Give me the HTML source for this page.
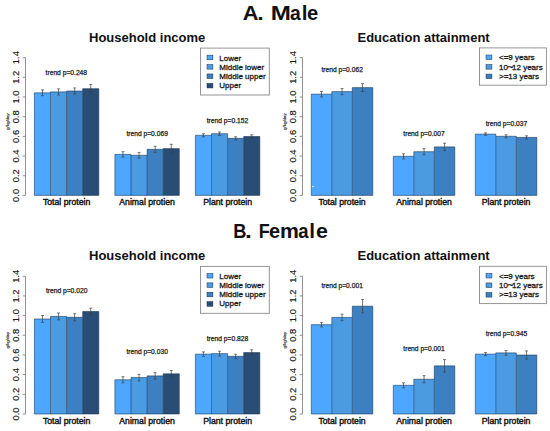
<!DOCTYPE html>
<html><head><meta charset="utf-8"><style>
html,body{margin:0;padding:0;background:#fff;width:550px;height:431px;overflow:hidden}
svg{display:block}
text{font-family:"Liberation Sans",sans-serif;fill:#1a1a1a}
.big{font-size:21px;font-weight:bold;fill:#111}
.pt{font-size:13px;font-weight:bold;fill:#111}
.tk{font-size:9.4px;fill:#1a1a1a;stroke:#1a1a1a;stroke-width:0.18px}
.yl{font-size:4.4px;fill:#333;stroke:#333;stroke-width:0.15px}
.xl{font-size:8.7px;fill:#111;stroke:#111;stroke-width:0.4px}
.tr{font-size:6.7px;fill:#1a1a1a;stroke:#1a1a1a;stroke-width:0.25px}
.lg{font-size:8px;fill:#1a1a1a;stroke:#1a1a1a;stroke-width:0.3px}
</style></head><body>
<svg width="550" height="431" viewBox="0 0 550 431">
<rect width="550" height="431" fill="#fff"/>
<text transform="translate(242.68,20.3) scale(1.036,1)" class="big">A</text>
<text transform="translate(257.15,20.3) scale(1.100,1)" class="big">.</text>
<text transform="translate(270.67,20.3) scale(1.152,1)" class="big">M</text>
<text transform="translate(290.11,20.3) scale(0.918,1)" class="big">a</text>
<text transform="translate(301.63,20.3) scale(0.982,1)" class="big">l</text>
<text transform="translate(307.08,20.3) scale(0.956,1)" class="big">e</text>
<text transform="translate(233.19,238.4) scale(0.871,1)" class="big">B</text>
<text transform="translate(244.95,238.4) scale(1.167,1)" class="big">.</text>
<text transform="translate(258.81,238.4) scale(0.857,1)" class="big">F</text>
<text transform="translate(269.09,238.4) scale(0.946,1)" class="big">e</text>
<text transform="translate(280.09,238.4) scale(1.010,1)" class="big">m</text>
<text transform="translate(298.14,238.4) scale(0.882,1)" class="big">a</text>
<text transform="translate(309.13,238.4) scale(0.982,1)" class="big">l</text>
<text transform="translate(316.04,238.4) scale(1.015,1)" class="big">e</text>
<line x1="25.5" y1="195.40" x2="25.5" y2="57.65" stroke="#858585" stroke-width="0.9"/>
<line x1="22.7" y1="195.40" x2="25.5" y2="195.40" stroke="#858585" stroke-width="0.9"/>
<text transform="translate(19.40,195.40) rotate(-90)" text-anchor="middle" class="tk">0.0</text>
<line x1="22.7" y1="175.72" x2="25.5" y2="175.72" stroke="#858585" stroke-width="0.9"/>
<text transform="translate(19.40,175.72) rotate(-90)" text-anchor="middle" class="tk">0.2</text>
<line x1="22.7" y1="156.04" x2="25.5" y2="156.04" stroke="#858585" stroke-width="0.9"/>
<text transform="translate(19.40,156.04) rotate(-90)" text-anchor="middle" class="tk">0.4</text>
<line x1="22.7" y1="136.37" x2="25.5" y2="136.37" stroke="#858585" stroke-width="0.9"/>
<text transform="translate(19.40,136.37) rotate(-90)" text-anchor="middle" class="tk">0.6</text>
<line x1="22.7" y1="116.69" x2="25.5" y2="116.69" stroke="#858585" stroke-width="0.9"/>
<text transform="translate(19.40,116.69) rotate(-90)" text-anchor="middle" class="tk">0.8</text>
<line x1="22.7" y1="97.01" x2="25.5" y2="97.01" stroke="#858585" stroke-width="0.9"/>
<text transform="translate(19.40,97.01) rotate(-90)" text-anchor="middle" class="tk">1.0</text>
<line x1="22.7" y1="77.33" x2="25.5" y2="77.33" stroke="#858585" stroke-width="0.9"/>
<text transform="translate(19.40,77.33) rotate(-90)" text-anchor="middle" class="tk">1.2</text>
<line x1="22.7" y1="57.65" x2="25.5" y2="57.65" stroke="#858585" stroke-width="0.9"/>
<text transform="translate(19.40,57.65) rotate(-90)" text-anchor="middle" class="tk">1.4</text>
<text transform="translate(8.90,121.60) rotate(-90)" text-anchor="middle" class="yl">g/kg/day</text>
<rect x="34.40" y="92.80" width="16.10" height="102.60" fill="#4da6ff"/>
<rect x="50.50" y="91.90" width="16.10" height="103.50" fill="#4a9be2"/>
<rect x="66.60" y="91.00" width="16.10" height="104.40" fill="#3d80c2"/>
<rect x="82.70" y="88.70" width="16.10" height="106.70" fill="#294d75"/>
<path d="M34.40 92.80H50.50M50.50 91.90H66.60M66.60 91.00H82.70M82.70 88.70H98.80M34.40 92.80V195.40M50.50 91.90V195.40M66.60 91.00V195.40M82.70 88.70V195.40M98.80 88.70V195.40M34.40 195.40H98.80" fill="none" stroke="#14304f" stroke-opacity="0.55" stroke-width="1.0"/>
<path d="M42.45 89.90V95.70M40.95 89.90H43.95M40.95 95.70H43.95" stroke="#404040" stroke-width="0.7" fill="none"/>
<path d="M58.55 88.85V94.95M57.05 88.85H60.05M57.05 94.95H60.05" stroke="#404040" stroke-width="0.7" fill="none"/>
<path d="M74.65 87.95V94.05M73.15 87.95H76.15M73.15 94.05H76.15" stroke="#404040" stroke-width="0.7" fill="none"/>
<path d="M90.75 84.60V92.80M89.25 84.60H92.25M89.25 92.80H92.25" stroke="#404040" stroke-width="0.7" fill="none"/>
<text x="66.60" y="205.20" text-anchor="middle" class="xl">Total protein</text>
<rect x="114.90" y="154.40" width="16.10" height="41.00" fill="#4da6ff"/>
<rect x="131.00" y="155.30" width="16.10" height="40.10" fill="#4a9be2"/>
<rect x="147.10" y="149.30" width="16.10" height="46.10" fill="#3d80c2"/>
<rect x="163.20" y="148.60" width="16.10" height="46.80" fill="#294d75"/>
<path d="M114.90 154.40H131.00M131.00 155.30H147.10M147.10 149.30H163.20M163.20 148.60H179.30M114.90 154.40V195.40M131.00 154.40V195.40M147.10 149.30V195.40M163.20 148.60V195.40M179.30 148.60V195.40M114.90 195.40H179.30" fill="none" stroke="#14304f" stroke-opacity="0.55" stroke-width="1.0"/>
<path d="M122.95 151.70V157.10M121.45 151.70H124.45M121.45 157.10H124.45" stroke="#404040" stroke-width="0.7" fill="none"/>
<path d="M139.05 152.45V158.15M137.55 152.45H140.55M137.55 158.15H140.55" stroke="#404040" stroke-width="0.7" fill="none"/>
<path d="M155.15 146.30V152.30M153.65 146.30H156.65M153.65 152.30H156.65" stroke="#404040" stroke-width="0.7" fill="none"/>
<path d="M171.25 144.30V152.90M169.75 144.30H172.75M169.75 152.90H172.75" stroke="#404040" stroke-width="0.7" fill="none"/>
<text x="147.10" y="205.20" text-anchor="middle" class="xl">Animal protien</text>
<rect x="195.40" y="135.30" width="16.10" height="60.10" fill="#4da6ff"/>
<rect x="211.50" y="133.70" width="16.10" height="61.70" fill="#4a9be2"/>
<rect x="227.60" y="138.30" width="16.10" height="57.10" fill="#3d80c2"/>
<rect x="243.70" y="136.50" width="16.10" height="58.90" fill="#294d75"/>
<path d="M195.40 135.30H211.50M211.50 133.70H227.60M227.60 138.30H243.70M243.70 136.50H259.80M195.40 135.30V195.40M211.50 133.70V195.40M227.60 133.70V195.40M243.70 136.50V195.40M259.80 136.50V195.40M195.40 195.40H259.80" fill="none" stroke="#14304f" stroke-opacity="0.55" stroke-width="1.0"/>
<path d="M203.45 133.75V136.85M201.95 133.75H204.95M201.95 136.85H204.95" stroke="#404040" stroke-width="0.7" fill="none"/>
<path d="M219.55 132.00V135.40M218.05 132.00H221.05M218.05 135.40H221.05" stroke="#404040" stroke-width="0.7" fill="none"/>
<path d="M235.65 136.75V139.85M234.15 136.75H237.15M234.15 139.85H237.15" stroke="#404040" stroke-width="0.7" fill="none"/>
<path d="M251.75 134.80V138.20M250.25 134.80H253.25M250.25 138.20H253.25" stroke="#404040" stroke-width="0.7" fill="none"/>
<text x="227.60" y="205.20" text-anchor="middle" class="xl">Plant protein</text>
<text x="45.60" y="74.60" class="tr">trend p=0.248</text>
<text x="126.40" y="136.10" class="tr">trend p=0.069</text>
<text x="206.70" y="122.90" class="tr">trend p=0.152</text>
<rect x="200.5" y="48.1" width="68.80000000000001" height="46.9" fill="#fff" stroke="#8a8a8a" stroke-width="0.9"/>
<rect x="207.0" y="55.15" width="5.9" height="4.6" fill="#4da6ff" stroke="#14304f" stroke-width="0.5"/>
<text x="219.3" y="60.80" class="lg">Lower</text>
<rect x="207.0" y="64.55" width="5.9" height="4.6" fill="#4a9be2" stroke="#14304f" stroke-width="0.5"/>
<text x="219.3" y="69.88" class="lg">Middle lower</text>
<rect x="207.0" y="73.95" width="5.9" height="4.6" fill="#3d80c2" stroke="#14304f" stroke-width="0.5"/>
<text x="219.3" y="78.96" class="lg">Middle upper</text>
<rect x="207.0" y="83.35" width="5.9" height="4.6" fill="#294d75" stroke="#14304f" stroke-width="0.5"/>
<text x="219.3" y="88.04" class="lg">Upper</text>
<text x="89.0" y="42.00" class="pt">Household income</text>
<line x1="302.5" y1="195.40" x2="302.5" y2="57.65" stroke="#858585" stroke-width="0.9"/>
<line x1="299.7" y1="195.40" x2="302.5" y2="195.40" stroke="#858585" stroke-width="0.9"/>
<text transform="translate(296.40,195.40) rotate(-90)" text-anchor="middle" class="tk">0.0</text>
<line x1="299.7" y1="175.72" x2="302.5" y2="175.72" stroke="#858585" stroke-width="0.9"/>
<text transform="translate(296.40,175.72) rotate(-90)" text-anchor="middle" class="tk">0.2</text>
<line x1="299.7" y1="156.04" x2="302.5" y2="156.04" stroke="#858585" stroke-width="0.9"/>
<text transform="translate(296.40,156.04) rotate(-90)" text-anchor="middle" class="tk">0.4</text>
<line x1="299.7" y1="136.37" x2="302.5" y2="136.37" stroke="#858585" stroke-width="0.9"/>
<text transform="translate(296.40,136.37) rotate(-90)" text-anchor="middle" class="tk">0.6</text>
<line x1="299.7" y1="116.69" x2="302.5" y2="116.69" stroke="#858585" stroke-width="0.9"/>
<text transform="translate(296.40,116.69) rotate(-90)" text-anchor="middle" class="tk">0.8</text>
<line x1="299.7" y1="97.01" x2="302.5" y2="97.01" stroke="#858585" stroke-width="0.9"/>
<text transform="translate(296.40,97.01) rotate(-90)" text-anchor="middle" class="tk">1.0</text>
<line x1="299.7" y1="77.33" x2="302.5" y2="77.33" stroke="#858585" stroke-width="0.9"/>
<text transform="translate(296.40,77.33) rotate(-90)" text-anchor="middle" class="tk">1.2</text>
<line x1="299.7" y1="57.65" x2="302.5" y2="57.65" stroke="#858585" stroke-width="0.9"/>
<text transform="translate(296.40,57.65) rotate(-90)" text-anchor="middle" class="tk">1.4</text>
<text transform="translate(285.90,121.60) rotate(-90)" text-anchor="middle" class="yl">g/kg/day</text>
<rect x="311.30" y="94.15" width="20.50" height="101.25" fill="#4da6ff"/>
<rect x="331.80" y="91.60" width="20.50" height="103.80" fill="#4a9be2"/>
<rect x="352.30" y="87.60" width="20.50" height="107.80" fill="#3d80c2"/>
<path d="M311.30 94.15H331.80M331.80 91.60H352.30M352.30 87.60H372.80M311.30 94.15V195.40M331.80 91.60V195.40M352.30 87.60V195.40M372.80 87.60V195.40M311.30 195.40H372.80" fill="none" stroke="#14304f" stroke-opacity="0.55" stroke-width="1.0"/>
<path d="M321.55 91.40V96.90M320.05 91.40H323.05M320.05 96.90H323.05" stroke="#404040" stroke-width="0.7" fill="none"/>
<path d="M342.05 88.60V94.60M340.55 88.60H343.55M340.55 94.60H343.55" stroke="#404040" stroke-width="0.7" fill="none"/>
<path d="M362.55 83.65V91.55M361.05 83.65H364.05M361.05 91.55H364.05" stroke="#404040" stroke-width="0.7" fill="none"/>
<text x="342.05" y="205.20" text-anchor="middle" class="xl">Total protein</text>
<rect x="393.30" y="156.30" width="20.50" height="39.10" fill="#4da6ff"/>
<rect x="413.80" y="151.70" width="20.50" height="43.70" fill="#4a9be2"/>
<rect x="434.30" y="146.90" width="20.50" height="48.50" fill="#3d80c2"/>
<path d="M393.30 156.30H413.80M413.80 151.70H434.30M434.30 146.90H454.80M393.30 156.30V195.40M413.80 151.70V195.40M434.30 146.90V195.40M454.80 146.90V195.40M393.30 195.40H454.80" fill="none" stroke="#14304f" stroke-opacity="0.55" stroke-width="1.0"/>
<path d="M403.55 153.75V158.85M402.05 153.75H405.05M402.05 158.85H405.05" stroke="#404040" stroke-width="0.7" fill="none"/>
<path d="M424.05 148.65V154.75M422.55 148.65H425.55M422.55 154.75H425.55" stroke="#404040" stroke-width="0.7" fill="none"/>
<path d="M444.55 143.20V150.60M443.05 143.20H446.05M443.05 150.60H446.05" stroke="#404040" stroke-width="0.7" fill="none"/>
<text x="424.05" y="205.20" text-anchor="middle" class="xl">Animal protien</text>
<rect x="475.30" y="134.10" width="20.50" height="61.30" fill="#4da6ff"/>
<rect x="495.80" y="136.30" width="20.50" height="59.10" fill="#4a9be2"/>
<rect x="516.30" y="137.40" width="20.50" height="58.00" fill="#3d80c2"/>
<path d="M475.30 134.10H495.80M495.80 136.30H516.30M516.30 137.40H536.80M475.30 134.10V195.40M495.80 134.10V195.40M516.30 136.30V195.40M536.80 137.40V195.40M475.30 195.40H536.80" fill="none" stroke="#14304f" stroke-opacity="0.55" stroke-width="1.0"/>
<path d="M485.55 132.90V135.30M484.05 132.90H487.05M484.05 135.30H487.05" stroke="#404040" stroke-width="0.7" fill="none"/>
<path d="M506.05 134.80V137.80M504.55 134.80H507.55M504.55 137.80H507.55" stroke="#404040" stroke-width="0.7" fill="none"/>
<path d="M526.55 135.80V139.00M525.05 135.80H528.05M525.05 139.00H528.05" stroke="#404040" stroke-width="0.7" fill="none"/>
<text x="506.05" y="205.20" text-anchor="middle" class="xl">Plant protein</text>
<text x="321.40" y="71.90" class="tr">trend p=0.062</text>
<text x="403.30" y="136.20" class="tr">trend p=0.007</text>
<text x="485.70" y="125.70" class="tr">trend p=0.037</text>
<rect x="479.5" y="47.9" width="66.89999999999998" height="37.300000000000004" fill="#fff" stroke="#8a8a8a" stroke-width="0.9"/>
<rect x="486.0" y="55.00" width="5.9" height="4.6" fill="#4da6ff" stroke="#14304f" stroke-width="0.5"/>
<text x="499.0" y="60.30" class="lg">&lt;=9 years</text>
<rect x="486.0" y="64.55" width="5.9" height="4.6" fill="#4a9be2" stroke="#14304f" stroke-width="0.5"/>
<text x="499.0" y="69.60" class="lg">10<tspan font-size="10" dy="1.2" dx="-0.5">~</tspan><tspan dy="-1.3" dx="-1.2">12 years</tspan></text>
<rect x="486.0" y="74.10" width="5.9" height="4.6" fill="#3d80c2" stroke="#14304f" stroke-width="0.5"/>
<text x="499.0" y="78.90" class="lg">&gt;=13 years</text>
<text x="357.5" y="42.00" class="pt">Education attainment</text>
<line x1="25.5" y1="414.00" x2="25.5" y2="276.25" stroke="#858585" stroke-width="0.9"/>
<line x1="22.7" y1="414.00" x2="25.5" y2="414.00" stroke="#858585" stroke-width="0.9"/>
<text transform="translate(19.40,414.00) rotate(-90)" text-anchor="middle" class="tk">0.0</text>
<line x1="22.7" y1="394.32" x2="25.5" y2="394.32" stroke="#858585" stroke-width="0.9"/>
<text transform="translate(19.40,394.32) rotate(-90)" text-anchor="middle" class="tk">0.2</text>
<line x1="22.7" y1="374.64" x2="25.5" y2="374.64" stroke="#858585" stroke-width="0.9"/>
<text transform="translate(19.40,374.64) rotate(-90)" text-anchor="middle" class="tk">0.4</text>
<line x1="22.7" y1="354.97" x2="25.5" y2="354.97" stroke="#858585" stroke-width="0.9"/>
<text transform="translate(19.40,354.97) rotate(-90)" text-anchor="middle" class="tk">0.6</text>
<line x1="22.7" y1="335.29" x2="25.5" y2="335.29" stroke="#858585" stroke-width="0.9"/>
<text transform="translate(19.40,335.29) rotate(-90)" text-anchor="middle" class="tk">0.8</text>
<line x1="22.7" y1="315.61" x2="25.5" y2="315.61" stroke="#858585" stroke-width="0.9"/>
<text transform="translate(19.40,315.61) rotate(-90)" text-anchor="middle" class="tk">1.0</text>
<line x1="22.7" y1="295.93" x2="25.5" y2="295.93" stroke="#858585" stroke-width="0.9"/>
<text transform="translate(19.40,295.93) rotate(-90)" text-anchor="middle" class="tk">1.2</text>
<line x1="22.7" y1="276.25" x2="25.5" y2="276.25" stroke="#858585" stroke-width="0.9"/>
<text transform="translate(19.40,276.25) rotate(-90)" text-anchor="middle" class="tk">1.4</text>
<text transform="translate(8.90,340.20) rotate(-90)" text-anchor="middle" class="yl">g/kg/day</text>
<rect x="34.40" y="319.00" width="16.10" height="95.00" fill="#4da6ff"/>
<rect x="50.50" y="316.40" width="16.10" height="97.60" fill="#4a9be2"/>
<rect x="66.60" y="317.25" width="16.10" height="96.75" fill="#3d80c2"/>
<rect x="82.70" y="311.50" width="16.10" height="102.50" fill="#294d75"/>
<path d="M34.40 319.00H50.50M50.50 316.40H66.60M66.60 317.25H82.70M82.70 311.50H98.80M34.40 319.00V414.00M50.50 316.40V414.00M66.60 316.40V414.00M82.70 311.50V414.00M98.80 311.50V414.00M34.40 414.00H98.80" fill="none" stroke="#14304f" stroke-opacity="0.55" stroke-width="1.0"/>
<path d="M42.45 315.60V322.40M40.95 315.60H43.95M40.95 322.40H43.95" stroke="#404040" stroke-width="0.7" fill="none"/>
<path d="M58.55 313.00V319.80M57.05 313.00H60.05M57.05 319.80H60.05" stroke="#404040" stroke-width="0.7" fill="none"/>
<path d="M74.65 313.70V320.80M73.15 313.70H76.15M73.15 320.80H76.15" stroke="#404040" stroke-width="0.7" fill="none"/>
<path d="M90.75 308.20V314.80M89.25 308.20H92.25M89.25 314.80H92.25" stroke="#404040" stroke-width="0.7" fill="none"/>
<text x="66.60" y="423.80" text-anchor="middle" class="xl">Total protein</text>
<rect x="114.90" y="379.75" width="16.10" height="34.25" fill="#4da6ff"/>
<rect x="131.00" y="377.55" width="16.10" height="36.45" fill="#4a9be2"/>
<rect x="147.10" y="375.90" width="16.10" height="38.10" fill="#3d80c2"/>
<rect x="163.20" y="373.80" width="16.10" height="40.20" fill="#294d75"/>
<path d="M114.90 379.75H131.00M131.00 377.55H147.10M147.10 375.90H163.20M163.20 373.80H179.30M114.90 379.75V414.00M131.00 377.55V414.00M147.10 375.90V414.00M163.20 373.80V414.00M179.30 373.80V414.00M114.90 414.00H179.30" fill="none" stroke="#14304f" stroke-opacity="0.55" stroke-width="1.0"/>
<path d="M122.95 376.70V382.80M121.45 376.70H124.45M121.45 382.80H124.45" stroke="#404040" stroke-width="0.7" fill="none"/>
<path d="M139.05 374.30V380.80M137.55 374.30H140.55M137.55 380.80H140.55" stroke="#404040" stroke-width="0.7" fill="none"/>
<path d="M155.15 372.70V379.10M153.65 372.70H156.65M153.65 379.10H156.65" stroke="#404040" stroke-width="0.7" fill="none"/>
<path d="M171.25 370.60V377.00M169.75 370.60H172.75M169.75 377.00H172.75" stroke="#404040" stroke-width="0.7" fill="none"/>
<text x="147.10" y="423.80" text-anchor="middle" class="xl">Animal protien</text>
<rect x="195.40" y="354.15" width="16.10" height="59.85" fill="#4da6ff"/>
<rect x="211.50" y="353.60" width="16.10" height="60.40" fill="#4a9be2"/>
<rect x="227.60" y="356.30" width="16.10" height="57.70" fill="#3d80c2"/>
<rect x="243.70" y="352.55" width="16.10" height="61.45" fill="#294d75"/>
<path d="M195.40 354.15H211.50M211.50 353.60H227.60M227.60 356.30H243.70M243.70 352.55H259.80M195.40 354.15V414.00M211.50 353.60V414.00M227.60 353.60V414.00M243.70 352.55V414.00M259.80 352.55V414.00M195.40 414.00H259.80" fill="none" stroke="#14304f" stroke-opacity="0.55" stroke-width="1.0"/>
<path d="M203.45 351.90V356.40M201.95 351.90H204.95M201.95 356.40H204.95" stroke="#404040" stroke-width="0.7" fill="none"/>
<path d="M219.55 351.20V356.00M218.05 351.20H221.05M218.05 356.00H221.05" stroke="#404040" stroke-width="0.7" fill="none"/>
<path d="M235.65 354.20V358.40M234.15 354.20H237.15M234.15 358.40H237.15" stroke="#404040" stroke-width="0.7" fill="none"/>
<path d="M251.75 349.80V355.30M250.25 349.80H253.25M250.25 355.30H253.25" stroke="#404040" stroke-width="0.7" fill="none"/>
<text x="227.60" y="423.80" text-anchor="middle" class="xl">Plant protein</text>
<text x="45.90" y="292.60" class="tr">trend p=0.020</text>
<text x="126.40" y="353.90" class="tr">trend p=0.030</text>
<text x="206.70" y="341.10" class="tr">trend p=0.828</text>
<rect x="200.5" y="266.40000000000003" width="68.80000000000001" height="46.89999999999998" fill="#fff" stroke="#8a8a8a" stroke-width="0.9"/>
<rect x="207.0" y="273.45" width="5.9" height="4.6" fill="#4da6ff" stroke="#14304f" stroke-width="0.5"/>
<text x="219.3" y="279.10" class="lg">Lower</text>
<rect x="207.0" y="282.85" width="5.9" height="4.6" fill="#4a9be2" stroke="#14304f" stroke-width="0.5"/>
<text x="219.3" y="288.18" class="lg">Middle lower</text>
<rect x="207.0" y="292.25" width="5.9" height="4.6" fill="#3d80c2" stroke="#14304f" stroke-width="0.5"/>
<text x="219.3" y="297.26" class="lg">Middle upper</text>
<rect x="207.0" y="301.65" width="5.9" height="4.6" fill="#294d75" stroke="#14304f" stroke-width="0.5"/>
<text x="219.3" y="306.34" class="lg">Upper</text>
<text x="89.0" y="260.30" class="pt">Household income</text>
<line x1="302.5" y1="414.00" x2="302.5" y2="276.25" stroke="#858585" stroke-width="0.9"/>
<line x1="299.7" y1="414.00" x2="302.5" y2="414.00" stroke="#858585" stroke-width="0.9"/>
<text transform="translate(296.40,414.00) rotate(-90)" text-anchor="middle" class="tk">0.0</text>
<line x1="299.7" y1="394.32" x2="302.5" y2="394.32" stroke="#858585" stroke-width="0.9"/>
<text transform="translate(296.40,394.32) rotate(-90)" text-anchor="middle" class="tk">0.2</text>
<line x1="299.7" y1="374.64" x2="302.5" y2="374.64" stroke="#858585" stroke-width="0.9"/>
<text transform="translate(296.40,374.64) rotate(-90)" text-anchor="middle" class="tk">0.4</text>
<line x1="299.7" y1="354.97" x2="302.5" y2="354.97" stroke="#858585" stroke-width="0.9"/>
<text transform="translate(296.40,354.97) rotate(-90)" text-anchor="middle" class="tk">0.6</text>
<line x1="299.7" y1="335.29" x2="302.5" y2="335.29" stroke="#858585" stroke-width="0.9"/>
<text transform="translate(296.40,335.29) rotate(-90)" text-anchor="middle" class="tk">0.8</text>
<line x1="299.7" y1="315.61" x2="302.5" y2="315.61" stroke="#858585" stroke-width="0.9"/>
<text transform="translate(296.40,315.61) rotate(-90)" text-anchor="middle" class="tk">1.0</text>
<line x1="299.7" y1="295.93" x2="302.5" y2="295.93" stroke="#858585" stroke-width="0.9"/>
<text transform="translate(296.40,295.93) rotate(-90)" text-anchor="middle" class="tk">1.2</text>
<line x1="299.7" y1="276.25" x2="302.5" y2="276.25" stroke="#858585" stroke-width="0.9"/>
<text transform="translate(296.40,276.25) rotate(-90)" text-anchor="middle" class="tk">1.4</text>
<text transform="translate(285.90,340.20) rotate(-90)" text-anchor="middle" class="yl">g/kg/day</text>
<rect x="311.30" y="324.65" width="20.50" height="89.35" fill="#4da6ff"/>
<rect x="331.80" y="317.40" width="20.50" height="96.60" fill="#4a9be2"/>
<rect x="352.30" y="306.20" width="20.50" height="107.80" fill="#3d80c2"/>
<path d="M311.30 324.65H331.80M331.80 317.40H352.30M352.30 306.20H372.80M311.30 324.65V414.00M331.80 317.40V414.00M352.30 306.20V414.00M372.80 306.20V414.00M311.30 414.00H372.80" fill="none" stroke="#14304f" stroke-opacity="0.55" stroke-width="1.0"/>
<path d="M321.55 322.40V326.90M320.05 322.40H323.05M320.05 326.90H323.05" stroke="#404040" stroke-width="0.7" fill="none"/>
<path d="M342.05 314.20V320.60M340.55 314.20H343.55M340.55 320.60H343.55" stroke="#404040" stroke-width="0.7" fill="none"/>
<path d="M362.55 299.60V312.80M361.05 299.60H364.05M361.05 312.80H364.05" stroke="#404040" stroke-width="0.7" fill="none"/>
<text x="342.05" y="423.80" text-anchor="middle" class="xl">Total protein</text>
<rect x="393.30" y="385.30" width="20.50" height="28.70" fill="#4da6ff"/>
<rect x="413.80" y="379.25" width="20.50" height="34.75" fill="#4a9be2"/>
<rect x="434.30" y="365.85" width="20.50" height="48.15" fill="#3d80c2"/>
<path d="M393.30 385.30H413.80M413.80 379.25H434.30M434.30 365.85H454.80M393.30 385.30V414.00M413.80 379.25V414.00M434.30 365.85V414.00M454.80 365.85V414.00M393.30 414.00H454.80" fill="none" stroke="#14304f" stroke-opacity="0.55" stroke-width="1.0"/>
<path d="M403.55 382.80V387.80M402.05 382.80H405.05M402.05 387.80H405.05" stroke="#404040" stroke-width="0.7" fill="none"/>
<path d="M424.05 375.70V382.80M422.55 375.70H425.55M422.55 382.80H425.55" stroke="#404040" stroke-width="0.7" fill="none"/>
<path d="M444.55 359.60V372.10M443.05 359.60H446.05M443.05 372.10H446.05" stroke="#404040" stroke-width="0.7" fill="none"/>
<text x="424.05" y="423.80" text-anchor="middle" class="xl">Animal protien</text>
<rect x="475.30" y="354.10" width="20.50" height="59.90" fill="#4da6ff"/>
<rect x="495.80" y="352.90" width="20.50" height="61.10" fill="#4a9be2"/>
<rect x="516.30" y="355.00" width="20.50" height="59.00" fill="#3d80c2"/>
<path d="M475.30 354.10H495.80M495.80 352.90H516.30M516.30 355.00H536.80M475.30 354.10V414.00M495.80 352.90V414.00M516.30 352.90V414.00M536.80 355.00V414.00M475.30 414.00H536.80" fill="none" stroke="#14304f" stroke-opacity="0.55" stroke-width="1.0"/>
<path d="M485.55 352.60V355.60M484.05 352.60H487.05M484.05 355.60H487.05" stroke="#404040" stroke-width="0.7" fill="none"/>
<path d="M506.05 350.50V355.30M504.55 350.50H507.55M504.55 355.30H507.55" stroke="#404040" stroke-width="0.7" fill="none"/>
<path d="M526.55 350.90V359.10M525.05 350.90H528.05M525.05 359.10H528.05" stroke="#404040" stroke-width="0.7" fill="none"/>
<text x="506.05" y="423.80" text-anchor="middle" class="xl">Plant protein</text>
<text x="321.40" y="288.00" class="tr">trend p=0.001</text>
<text x="403.30" y="351.30" class="tr">trend p=0.001</text>
<text x="485.70" y="335.80" class="tr">trend p=0.945</text>
<rect x="479.5" y="266.3" width="66.89999999999998" height="37.30000000000001" fill="#fff" stroke="#8a8a8a" stroke-width="0.9"/>
<rect x="486.0" y="273.40" width="5.9" height="4.6" fill="#4da6ff" stroke="#14304f" stroke-width="0.5"/>
<text x="499.0" y="278.70" class="lg">&lt;=9 years</text>
<rect x="486.0" y="282.95" width="5.9" height="4.6" fill="#4a9be2" stroke="#14304f" stroke-width="0.5"/>
<text x="499.0" y="288.00" class="lg">10<tspan font-size="10" dy="1.2" dx="-0.5">~</tspan><tspan dy="-1.3" dx="-1.2">12 years</tspan></text>
<rect x="486.0" y="292.50" width="5.9" height="4.6" fill="#3d80c2" stroke="#14304f" stroke-width="0.5"/>
<text x="499.0" y="297.30" class="lg">&gt;=13 years</text>
<text x="357.5" y="260.30" class="pt">Education attainment</text>
<ellipse cx="313" cy="186.5" rx="1.1" ry="0.65" fill="#d8ecff"/>
</svg>
</body></html>
